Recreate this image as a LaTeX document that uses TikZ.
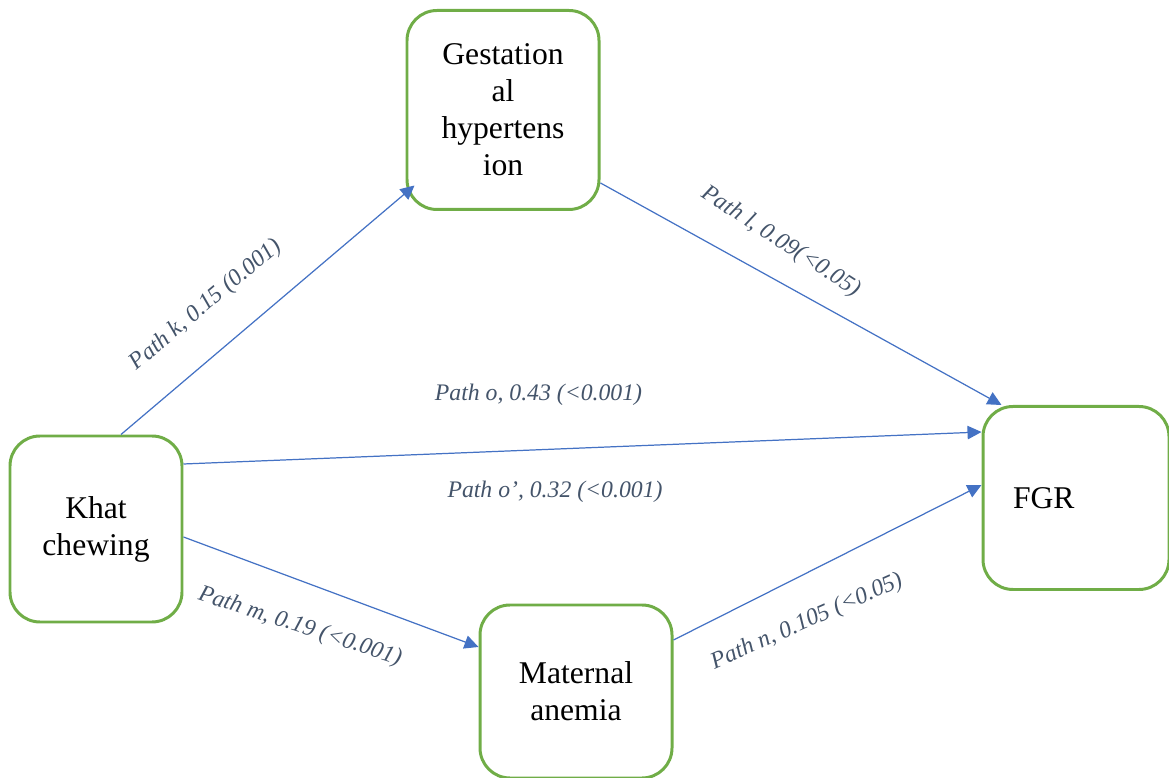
\documentclass[tikz,border=0pt]{standalone}
\usepackage{fontspec}
\setmainfont{Liberation Serif}
\usetikzlibrary{arrows.meta}
\definecolor{boxgreen}{HTML}{70AD47}
\definecolor{arrowblue}{HTML}{4472C4}
\definecolor{labelgray}{HTML}{44546A}

\begin{document}
\begin{tikzpicture}[
    varbox/.style={draw=boxgreen, line width=1.7pt, rounded corners=0.6cm, align=center, font=\fontsize{18}{21}\selectfont},
    effect/.style={draw=arrowblue, line width=0.7pt, -{Triangle[length=0.28cm, width=0.27cm]}},
    coef/.style={text=labelgray, inner sep=0pt, font=\fontsize{13.5}{16}\selectfont\itshape}]
    \useasboundingbox (0,0) rectangle (23.38,15.56);

    \node [varbox, minimum width=3.84cm, minimum height=3.98cm] (gest) at (10.06,13.36) {Gestation\\al\\hypertens\\ion};
    \node [varbox, minimum width=3.44cm, minimum height=3.72cm] (khat) at (1.92,4.98) {Khat\\chewing};
    \node [varbox, minimum width=3.72cm, minimum height=3.66cm, text width=2.52cm, align=left] (fgr) at (21.52,5.60) {FGR};
    \node [varbox, minimum width=3.84cm, minimum height=3.46cm] (mat) at (11.52,1.73) {Maternal\\anemia};

    \draw [effect] ([xshift=0.5cm]khat.north) -- ([xshift=0.18cm, yshift=0.51cm]gest.south west);
    \draw [effect] ([yshift=-1.46cm]gest.east) -- ([xshift=0.4cm]fgr.north west);
    \draw [effect] ([yshift=1.3cm]khat.east) -- ([yshift=1.32cm]fgr.west);
    \draw [effect] ([yshift=-0.16cm]khat.east) -- ([yshift=0.89cm]mat.west);
    \draw [effect] ([yshift=1.03cm]mat.east) -- ([yshift=0.26cm]fgr.west);

    \node [coef, rotate=40] (pathk) at (4.12,9.46) {Path k, 0.15 (0.001)};
    \node [coef, rotate=-33] (pathl) at (15.62,10.72) {Path l, 0.09(<0.05)};
    \node [coef] (patho) at (10.77,7.66) {Path o, 0.43 (<0.001)};
    \node [coef] (pathop) at (11.10,5.72) {Path o’, 0.32 (<0.001)};
    \node [coef, rotate=-18] (pathm) at (6.00,3.02) {Path m, 0.19 (<0.001)};
    \node [coef, rotate=24] (pathn) at (16.14,3.12) {Path n, 0.105 (<0.05)};
\end{tikzpicture}
\end{document}
